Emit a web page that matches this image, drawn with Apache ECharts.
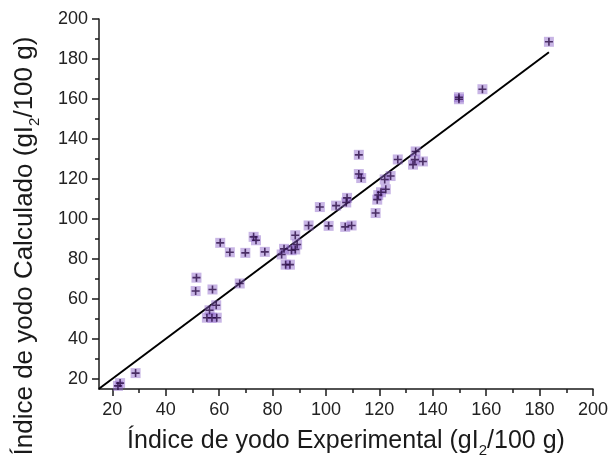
<!DOCTYPE html>
<html>
<head>
<meta charset="utf-8">
<script src="https://cdn.jsdelivr.net/npm/echarts@6/dist/echarts.min.js"></script>
<style>html,body{margin:0;padding:0;background:#fff}#c{width:611px;height:463px}</style>
</head>
<body>
<div id="c"></div>
<script>
// Experimental vs calculated iodine index (gI2/100 g)
var expX = [22.1, 22.9, 28.7, 51.5, 51.2, 57.5, 58.9, 56.4, 55.4, 57.3, 59.1, 60.4, 64.0, 69.8, 67.7, 72.9, 73.8, 77.1,
  83.4, 84.3, 84.9, 86.5, 87.1, 88.5, 89.2, 88.5, 93.5, 97.7, 101.0, 103.8, 107.2, 109.6, 107.9, 107.6, 112.3, 112.3,
  113.2, 118.6, 119.2, 119.6, 120.6, 122.4, 122.0, 124.2, 126.9, 132.6, 133.3, 133.6, 136.3, 149.8, 149.8, 158.6, 183.5];
var calcY = [16.6, 18.0, 23.0, 70.7, 64.0, 64.8, 56.9, 54.4, 50.7, 50.7, 50.7, 88.1, 83.4, 83.1, 67.8, 91.1, 89.4, 83.6,
  82.3, 85.1, 77.2, 77.2, 84.4, 84.8, 87.3, 91.9, 96.8, 106.0, 96.6, 106.7, 96.1, 96.8, 110.6, 108.3, 132.1, 122.5,
  120.5, 103.0, 109.7, 112.0, 113.4, 114.9, 119.8, 121.5, 129.8, 127.2, 129.7, 133.8, 128.8, 160.9, 159.9, 164.9, 188.6];
var fitX = [15, 183.5];
var fitY = [15.2, 183.4];
var majorTicks = [20, 40, 60, 80, 100, 120, 140, 160, 180, 200];
var minorTicks = [30, 50, 70, 90, 110, 130, 150, 170, 190];

var pts = expX.map(function (x, i) { return [x, calcY[i]]; });
var line = fitX.map(function (x, i) { return [x, fitY[i]]; });

var font = 'Liberation Sans, Arial, sans-serif';
var ink = '#1a1a1a';
function mainAxis(nameStr, isY) {
  var fs = isY ? 26 : 25;
  return {
    type: 'value', min: 15, max: 200,
    name: nameStr, nameLocation: 'middle',
    nameGap: isY ? 57 : 35,
    nameTextStyle: {
      fontFamily: font, color: ink,
      rich: {
        t: {fontFamily: font, fontSize: fs, lineHeight: fs + 4, verticalAlign: 'top', color: ink},
        s: {fontFamily: font, fontSize: 15, lineHeight: 15, verticalAlign: 'bottom', padding: [19, 0, 0, 0], color: ink}
      }
    },
    splitLine: {show: false},
    axisLine: {show: true, onZero: false, lineStyle: {color: ink, width: 1.5}},
    axisTick: {show: true, inside: false, length: 7, customValues: majorTicks, lineStyle: {color: ink, width: 1.5}},
    axisLabel: {customValues: majorTicks, fontFamily: font, fontSize: 18, color: '#222', margin: isY ? 11 : 12}
  };
}
function minorAxis() {
  return {
    type: 'value', min: 15, max: 200,
    splitLine: {show: false},
    axisLine: {show: false, onZero: false},
    axisTick: {show: true, inside: false, length: 4, customValues: minorTicks, lineStyle: {color: ink, width: 1.5}},
    axisLabel: {show: false}
  };
}
var xMain = mainAxis('{t|Índice de yodo Experimental (gI}{s|2}{t|/100 g)}', false);
var yMain = mainAxis('{t|Índice de yodo Calculado (gI}{s|2}{t|/100 g)}', true);
yMain.nameTextStyle.padding = [0, 84, 0, 0];
var xMinor = minorAxis(); xMinor.position = 'bottom';
var yMinor = minorAxis(); yMinor.position = 'left';

var chart = echarts.init(document.getElementById('c'), null, {renderer: 'canvas'});
chart.setOption({
  animation: false,
  backgroundColor: '#fff',
  grid: {left: 93, right: 14, top: 19, bottom: 73, containLabel: false},
  xAxis: [xMain, xMinor],
  yAxis: [yMain, yMinor],
  series: [
    {
      type: 'line', data: line, xAxisIndex: 0, yAxisIndex: 0, symbol: 'none',
      lineStyle: {color: '#000', width: 2}, z: 2
    },
    {
      type: 'scatter', data: pts, xAxisIndex: 0, yAxisIndex: 0, symbol: 'rect', symbolSize: 10,
      itemStyle: {color: 'rgba(140,100,200,0.6)'}, z: 3
    },
    {
      type: 'scatter', data: pts, xAxisIndex: 0, yAxisIndex: 0,
      symbol: 'path://M4,0 L6,0 L6,4 L10,4 L10,6 L6,6 L6,10 L4,10 L4,6 L0,6 L0,4 L4,4 Z',
      symbolSize: 8, itemStyle: {color: '#2a0d45'}, z: 4
    }
  ]
});
</script>
</body>
</html>
